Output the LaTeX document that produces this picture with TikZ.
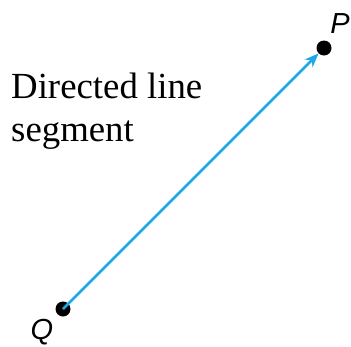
\documentclass[tikz,border=0pt]{standalone}
\usepackage{fontspec}
\setmainfont{Liberation Serif}
\newfontfamily\labfont{Liberation Sans}
\usetikzlibrary{arrows.meta}
\definecolor{vecblue}{RGB}{30,168,230}
\begin{document}
\begin{tikzpicture}[x=1pt,y=-1pt,
  pt/.style={circle,fill=black,inner sep=0pt,minimum size=15pt},
  ptlabel/.style={font=\labfont\itshape\fontsize{29}{29}\selectfont,inner sep=0pt},
  vec/.style={vecblue,line width=2.5pt,-{Stealth[length=14pt,width=11pt]}}]
\useasboundingbox (0,0) rectangle (351,346);
\node[pt] (P) at (324,48) {};
\node[pt] (Q) at (63,309) {};
\node[ptlabel] (Pl) at (340,24) {P};
\node[ptlabel] (Ql) at (42,332) {Q};
\node[font=\fontsize{36.8}{43.5}\selectfont,align=left,anchor=base west,inner sep=0pt] (txt) at (11,141.5) {Directed line\\segment};
\draw[vec] (Q.center) -- (P);
\end{tikzpicture}
\end{document}
